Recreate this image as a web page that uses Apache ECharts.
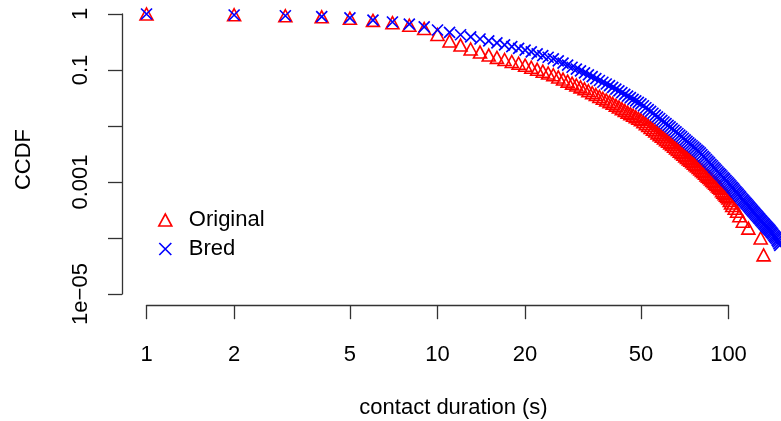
<!DOCTYPE html>
<html>
<head>
<meta charset="utf-8">
<script src="https://cdn.jsdelivr.net/npm/echarts@6/dist/echarts.min.js"></script>
<style>
html,body{margin:0;padding:0;background:#fff;}
#chart{width:781px;height:421px;}
</style>
</head>
<body>
<div id="chart"></div>
<script>
// ---- data ----
const xTickValues = [1, 2, 5, 10, 20, 50, 100];
const yTickValues = [0.00001, 0.0001, 0.001, 0.01, 0.1, 1];
const yLabelValues = [0.00001, 0.001, 0.1, 1];
const yLabelTexts = ['1e\u221205', '0.001', '0.1', '1'];

const durOriginal = [1,2,3,4,5,6,7,8,9,10,11,12,13,14,15,16,17,18,19,20,21,22,23,24,25,26,27,28,29,30,31,32,33,34,35,36,37,38,39,40,41,42,43,44,45,46,47,48,49,50,51,52,53,54,55,56,57,58,59,60,61,62,63,64,65,66,67,68,69,70,71,72,73,74,75,76,77,78,79,80,81,82,83,84,85,86,87,88,89,90,91,92,93,94,95,96,97,98,99,100,101,102,103,105,107,109,112,117,129,132];
const ccdfOriginal = [1,0.97,0.93,0.89,0.84,0.77,0.70,0.63,0.55,0.43,0.33,0.279,0.237,0.209,0.185,0.168,0.154,0.142,0.132,0.122,0.112,0.103,0.0953,0.0883,0.0822,0.0752,0.0689,0.0633,0.0583,0.054,0.05,0.0462,0.0426,0.0394,0.0364,0.0337,0.0313,0.0292,0.0272,0.0254,0.0236,0.0219,0.0204,0.019,0.0177,0.0166,0.0156,0.0146,0.0137,0.0129,0.0119,0.011,0.0102,0.00942,0.00873,0.00811,0.00754,0.00702,0.00655,0.00611,0.0057,0.00533,0.005,0.00466,0.00435,0.00406,0.0038,0.00356,0.00333,0.00313,0.00293,0.00275,0.00259,0.00244,0.0023,0.00217,0.00204,0.00193,0.00182,0.00171,0.00161,0.00152,0.00143,0.00134,0.00127,0.0012,0.00113,0.00106,0.00101,0.000953,0.000902,0.000853,0.000808,0.000766,0.0007,0.00066,0.00062,0.00058,0.00055,0.00052,0.00047,0.00042,0.00038,0.00034,0.0003,0.00025,0.0002,0.00015,0.0001,0.00005];

const durBred = [1,2,3,4,5,6,7,8,9,10,11,12,13,14,15,16,17,18,19,20,21,22,23,24,25,26,27,28,29,30,31,32,33,34,35,36,37,38,39,40,41,42,43,44,45,46,47,48,49,50,51,52,53,54,55,56,57,58,59,60,61,62,63,64,65,66,67,68,69,70,71,72,73,74,75,76,77,78,79,80,81,82,83,84,85,86,87,88,89,90,91,92,93,94,95,96,97,98,99,100,101,102,103,104,105,106,107,108,109,110,111,112,113,114,115,116,117,118,119,120,121,122,123,124,125,126,127,128,129,130,131,132,133,134,135,136,137,138,139,140,141,142,143,144,145,146,147,148,149,150];
const ccdfBred = [1,0.96,0.93,0.895,0.85,0.78,0.72,0.66,0.59,0.518,0.468,0.426,0.39,0.358,0.33,0.306,0.282,0.261,0.243,0.227,0.21,0.194,0.181,0.169,0.158,0.145,0.133,0.122,0.112,0.104,0.0964,0.0891,0.0821,0.0759,0.0701,0.065,0.0604,0.0562,0.0525,0.049,0.0454,0.0423,0.0393,0.0366,0.0343,0.0321,0.03,0.0282,0.0265,0.0249,0.023,0.0212,0.0196,0.0182,0.0169,0.0157,0.0146,0.0136,0.0126,0.0118,0.011,0.0103,0.00966,0.009,0.0084,0.00785,0.00734,0.00687,0.00644,0.00604,0.00566,0.00532,0.00501,0.00471,0.00444,0.00419,0.00394,0.00372,0.00352,0.0033,0.00308,0.00288,0.00269,0.00252,0.00236,0.00221,0.00207,0.00195,0.00183,0.00172,0.00162,0.00152,0.00143,0.00135,0.00128,0.0012,0.00114,0.00107,0.00101,0.00096,0.000904,0.000851,0.000804,0.000759,0.000716,0.000676,0.00064,0.000605,0.000573,0.000542,0.000513,0.000486,0.00046,0.000438,0.000415,0.000394,0.000374,0.000356,0.000338,0.000321,0.000305,0.000291,0.000277,0.000264,0.000252,0.00024,0.000229,0.000219,0.000209,0.0002,0.000191,0.000183,0.000175,0.000167,0.00016,0.000153,0.000147,0.000141,0.000135,0.000129,0.000123,0.000118,0.000112,0.000107,0.000102,0.000097,0.000091,0.000085,0.000079,0.000074];

// ---- chart ----
const FONT = '"Liberation Sans", Arial, Helvetica, sans-serif';
const AXIS_COLOR = '#333333';
const chart = echarts.init(document.getElementById('chart'), null, {renderer: 'canvas'});

function pairs(xs, ys) { return xs.map((x, i) => [x, ys[i]]); }

const option = {
  animation: false,
  backgroundColor: '#ffffff',
  textStyle: {fontFamily: FONT},
  grid: [
    // plotting region
    {left: 122, top: 2.8, width: 659, height: 302.4, outerBoundsMode: 'none', containLabel: false},
    // x axis (drawn from 1 to 100 only)
    {left: 146.5, top: 2.8, width: 582, height: 302.4, outerBoundsMode: 'none', containLabel: false},
    // y axis (drawn from 1e-5 to 1 only)
    {left: 122, top: 14, width: 600, height: 280, outerBoundsMode: 'none', containLabel: false}
  ],
  xAxis: [
    {gridIndex: 0, type: 'log', logBase: 10, min: 0.8236, max: 151.5, show: false},
    {gridIndex: 1, type: 'log', logBase: 10, min: 1, max: 100,
      axisLine: {show: true, lineStyle: {color: AXIS_COLOR, width: 1.3}},
      axisTick: {show: true, length: 14, customValues: xTickValues, lineStyle: {color: AXIS_COLOR, width: 1.3}},
      axisLabel: {show: true, customValues: xTickValues, margin: 39, fontSize: 22, color: '#000', fontFamily: FONT,
        formatter: v => String(Math.round(v))},
      splitLine: {show: false}, minorTick: {show: false},
      name: 'contact duration (s)', nameLocation: 'middle', nameGap: 92,
      nameTextStyle: {fontSize: 22, color: '#000', fontFamily: FONT, padding: [0, 0, 0, 32]}
    },
    {gridIndex: 2, type: 'value', min: 0, max: 1, show: false}
  ],
  yAxis: [
    {gridIndex: 0, type: 'log', logBase: 10, min: 0.00000631, max: 1.585, show: false},
    {gridIndex: 1, type: 'value', min: 0, max: 1, show: false},
    {gridIndex: 2, type: 'log', logBase: 10, min: 0.00001, max: 1,
      axisLine: {show: true, lineStyle: {color: AXIS_COLOR, width: 1.3}},
      axisTick: {show: true, length: 14, customValues: yTickValues, lineStyle: {color: AXIS_COLOR, width: 1.3}},
      axisLabel: {show: true, customValues: yLabelValues, rotate: 90, margin: 30, fontSize: 22, color: '#000', fontFamily: FONT,
        formatter: v => {
          const lg = Math.round(Math.log10(v));
          for (let i = 0; i < yLabelValues.length; i++) {
            if (Math.round(Math.log10(yLabelValues[i])) === lg) return yLabelTexts[i];
          }
          return '';
        }},
      splitLine: {show: false}, minorTick: {show: false},
      name: 'CCDF', nameLocation: 'middle', nameGap: 87,
      nameTextStyle: {fontSize: 22, color: '#000', fontFamily: FONT, padding: [0, 11, 0, 0]}
    }
  ],
  legend: {
    show: true,
    orient: 'vertical',
    left: 153,
    top: 204,
    itemWidth: 13,
    itemHeight: 12,
    itemGap: 7,
    textStyle: {fontSize: 22, color: '#000', fontFamily: FONT, padding: [0, 0, 0, 12]},
    selectedMode: false,
    data: [
      {name: 'Original', icon: 'triangle', itemStyle: {color: 'transparent', borderColor: '#ff0000', borderWidth: 1.6}},
      {name: 'Bred', icon: 'path://M0,0L10,10M10,0L0,10', itemStyle: {color: 'transparent', borderColor: '#0000ff', borderWidth: 1.7}}
    ]
  },
  tooltip: {show: false},
  series: [
    {
      name: 'Original', type: 'scatter', xAxisIndex: 0, yAxisIndex: 0,
      data: pairs(durOriginal, ccdfOriginal),
      symbol: 'triangle', symbolSize: [13, 12],
      itemStyle: {color: 'transparent', borderColor: '#ff0000', borderWidth: 1.6, opacity: 1},
      emphasis: {disabled: true}, clip: false, silent: true
    },
    {
      name: 'Bred', type: 'scatter', xAxisIndex: 0, yAxisIndex: 0,
      data: pairs(durBred, ccdfBred),
      symbol: 'path://M0,0L10,10M10,0L0,10', symbolSize: 11,
      itemStyle: {color: 'transparent', borderColor: '#0000ff', borderWidth: 1.7, opacity: 1},
      emphasis: {disabled: true}, clip: false, silent: true
    }
  ]
};
chart.setOption(option);
</script>
</body>
</html>
